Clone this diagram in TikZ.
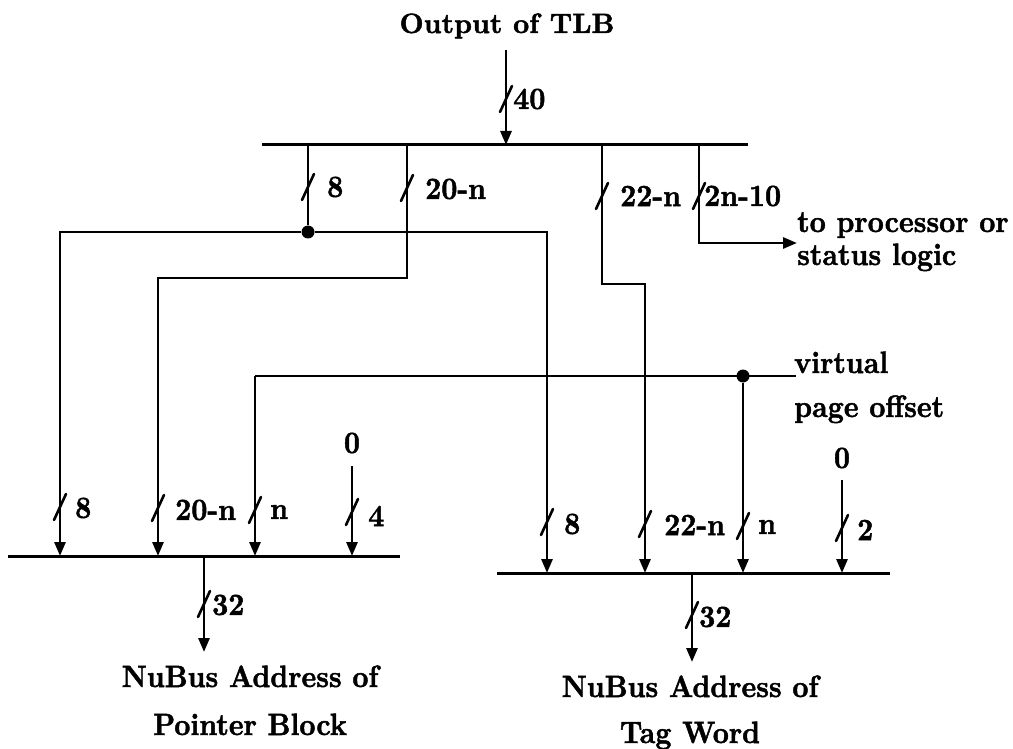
\documentclass[tikz,border=0pt]{standalone}
\usepackage{fontspec}
\newfontfamily\heavy[FakeBold=1.6]{lmroman10-bold.otf}
\usetikzlibrary{arrows.meta}
\newcommand{\vt}[1]{\scalebox{1}[1.1]{#1}}
\begin{document}
\begin{tikzpicture}[x=1pt,y=-1pt,
  wire/.style={line width=2.8pt},
  arr/.style={wire,-{Triangle[length=14pt,width=11pt]}},
  bus/.style={line width=3pt},
  txt/.style={inner sep=0pt,font=\fontsize{28}{33.6}\heavy},
  lbl/.style={txt,anchor=west},
  jdot/.style={circle,fill,inner sep=0pt,minimum size=13pt},
  bs/.pic={\draw[line width=2.6pt,line cap=round] (-6,13) -- (6,-13);}
]
\useasboundingbox (0,0) rectangle (1013,749);

% title and input
\node[txt,anchor=base] (title) at (507,33) {Output of TLB};
\coordinate (in) at (506,50);
\coordinate (tIn) at (506,145);
\draw[arr] (in) -- (tIn);
\pic at (506,99) {bs};
\node[lbl] (l40) at (513,99) {\vt{40}};

% top bus
\coordinate (tbL) at (262,145);
\coordinate (tbR) at (748,145);
\draw[bus] (tbL) -- (tbR);
\coordinate (tA) at (308,145);
\coordinate (tB) at (407,145);
\coordinate (tC) at (602,145);
\coordinate (tD) at (699,145);

% bottom buses
\coordinate (blL) at (8,556);
\coordinate (blR) at (400,556);
\draw[bus] (blL) -- (blR);
\coordinate (brL) at (497,573);
\coordinate (brR) at (890,573);
\draw[bus] (brL) -- (brR);

\coordinate (blA) at (60,556);
\coordinate (blB) at (158,556);
\coordinate (blC) at (255,556);
\coordinate (blD) at (352,556);
\coordinate (brA) at (547,573);
\coordinate (brB) at (645,573);
\coordinate (brC) at (743,573);
\coordinate (brD) at (842,573);

% 8-bit branch
\node[jdot] (dot1) at (308,232) {};
\draw[wire] (tA) -- (dot1);
\pic at (308,187) {bs};
\node[lbl] (l8t) at (327,187) {\vt{8}};
\draw[arr] (dot1) -| (blA);
\draw[arr] (dot1) -| (brA);

% 20-n branch
\coordinate (bB1) at (407,278);
\coordinate (bB2) at (158,278);
\draw[arr] (tB) -- (bB1) -- (bB2) -- (blB);
\pic at (407,188) {bs};
\node[lbl] (l20t) at (425,189) {\vt{20-n}};

% 22-n branch
\coordinate (bC1) at (602,284);
\coordinate (bC2) at (645,284);
\draw[arr] (tC) -- (bC1) -- (bC2) -- (brB);
\pic at (602,196) {bs};
\node[lbl] (l22t) at (620,196) {\vt{22-n}};

% 2n-10 branch
\coordinate (toproc) at (797,243);
\draw[arr] (tD) |- (toproc);
\pic at (699,196) {bs};
\node[lbl] (l2n) at (704,196) {\vt{2n-10}};
\node[txt,anchor=base west] (pr1) at (797,232) {\vt{to processor or}};
\node[txt,anchor=base west] (pr2) at (797,265) {\vt{status logic}};

% virtual page offset
\coordinate (vL) at (255,376);
\coordinate (vR) at (796,376);
\draw[wire] (vL) -- (vR);
\node[jdot] (dot2) at (743,376) {};
\draw[arr] (vL) -- (blC);
\draw[arr] (dot2) -- (brC);
\node[txt,anchor=base west] (vp1) at (794,373) {\vt{virtual}};
\node[txt,anchor=base west] (vp2) at (794,417) {\vt{page offset}};

% zero inputs
\node[txt] (z1) at (352,443) {\vt{0}};
\draw[arr,shorten <=13pt] (z1.south) -- (blD);
\node[txt] (z2) at (842,458) {\vt{0}};
\draw[arr,shorten <=12pt] (z2.south) -- (brD);

% bottom-left labels
\pic at (60,507) {bs};
\node[lbl] (lb8) at (75,508) {\vt{8}};
\pic at (158,508) {bs};
\node[lbl] (lb20) at (175,510) {\vt{20-n}};
\pic at (255,510) {bs};
\node[lbl] (lbn) at (270,512) {\vt{n}};
\pic at (352,512) {bs};
\node[lbl] (lb4) at (368,516) {\vt{4}};

% bottom-right labels
\pic at (547,522) {bs};
\node[lbl] (lr8) at (564,524) {\vt{8}};
\pic at (645,524) {bs};
\node[lbl] (lr22) at (664,525) {\vt{22-n}};
\pic at (743,526) {bs};
\node[lbl] (lrn) at (758,527) {\vt{n}};
\pic at (842,528) {bs};
\node[lbl] (lr2) at (857,530) {\vt{2}};

% outputs
\coordinate (oL) at (204,556);
\coordinate (oLe) at (204,652);
\draw[arr] (oL) -- (oLe);
\pic at (204,604) {bs};
\node[lbl] (l32a) at (212,605) {\vt{32}};
\node[txt,anchor=base] (pb1) at (250,687) {\vt{NuBus Address of}};
\node[txt,anchor=base] (pb2) at (250,735) {\vt{Pointer Block}};

\coordinate (oR) at (692,573);
\coordinate (oRe) at (692,662);
\draw[arr] (oR) -- (oRe);
\pic at (692,615) {bs};
\node[lbl] (l32b) at (699,617) {\vt{32}};
\node[txt,anchor=base] (tw1) at (690,697) {\vt{NuBus Address of}};
\node[txt,anchor=base] (tw2) at (690,743) {\vt{Tag Word}};
\end{tikzpicture}
\end{document}
